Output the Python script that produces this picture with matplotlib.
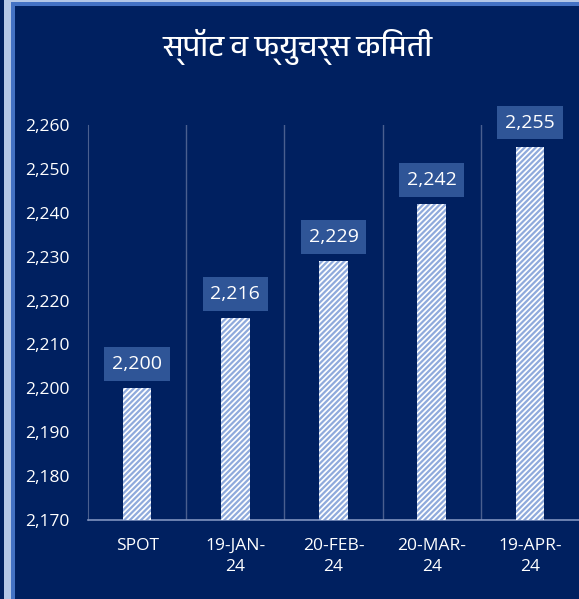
import matplotlib
matplotlib.use("Agg")
import matplotlib.pyplot as plt
from matplotlib import font_manager
from matplotlib.patches import Rectangle

# data
categories = ["SPOT", "19-JAN-\n24", "20-FEB-\n24", "20-MAR-\n24", "19-APR-\n24"]
prices = [2200, 2216, 2229, 2242, 2255]
yticks = [2170, 2180, 2190, 2200, 2210, 2220, 2230, 2240, 2250, 2260]
title = "स्पॉट व फ्युचर्स किमती"

navy = "#002060"
label_box = "#2F5597"
hatch_col = "#8FAADC"

# look for a font that can draw Devanagari
deva = [f.name for f in font_manager.fontManager.ttflist
        if "Devanagari" in f.name or f.name in ("Lohit Devanagari", "Mukta", "Hind", "Mangal")]
title_fonts = sorted(set(deva)) + ["Noto Sans", "DejaVu Sans"]

plt.rcParams["hatch.linewidth"] = 1.6
plt.rcParams["hatch.color"] = hatch_col

fig = plt.figure(figsize=(5.79, 5.99), dpi=100, facecolor=navy)
W, H = 579, 599

# outer frame on the left / top
fig.patches.append(Rectangle((4 / W, 0), 7 / W, 1 - 2 / H, transform=fig.transFigure,
                             facecolor="#B4C7E7", edgecolor="none", zorder=0))
fig.patches.append(Rectangle((11 / W, 0), 4 / W, 1 - 2 / H, transform=fig.transFigure,
                             facecolor="#4472C4", edgecolor="none", zorder=0))
fig.patches.append(Rectangle((11 / W, 1 - 6 / H), 1, 4 / H, transform=fig.transFigure,
                             facecolor="#4472C4", edgecolor="none", zorder=0))
fig.patches.append(Rectangle((4 / W, 1 - 2 / H), 1, 2 / H, transform=fig.transFigure,
                             facecolor="#B4C7E7", edgecolor="none", zorder=0))

ax = fig.add_axes([88 / W, 1 - 520 / H, 491 / W, 395 / H])
ax.set_facecolor(navy)

x = list(range(len(categories)))
ax.bar(x, [p - 2170 for p in prices], bottom=2170, width=0.29,
       color="white", edgecolor=hatch_col, linewidth=0, hatch="//////", zorder=3)

for xi, p in zip(x, prices):
    ax.annotate(f"{p:,}", (xi, p), xytext=(0, 11), textcoords="offset points",
                ha="center", va="bottom", color="white", fontsize=14,
                family=["Open Sans", "DejaVu Sans"],
                bbox=dict(boxstyle="square,pad=0.4", facecolor=label_box, edgecolor="none"))

ax.set_xlim(-0.5, len(categories) - 0.5)
ax.set_ylim(2170, 2260)
ax.set_yticks(yticks)
ax.set_yticklabels([f"{t:,}" for t in yticks], color="white", fontsize=12.5,
                   family=["Open Sans", "DejaVu Sans"])
ax.set_xticks(x)
ax.set_xticklabels(categories, color="white", fontsize=12.5,
                   family=["Open Sans", "DejaVu Sans"], linespacing=1.45)
ax.tick_params(axis="both", length=0)
ax.tick_params(axis="x", pad=13)
ax.tick_params(axis="y", pad=13)

for b in [0.5, 1.5, 2.5, 3.5]:
    ax.axvline(b, color="#4A5F8F", linewidth=1, zorder=1)

for s in ["top", "right"]:
    ax.spines[s].set_visible(False)
ax.spines["left"].set_color("#4A5F8F")
ax.spines["bottom"].set_color("#7F93BF")
ax.spines["bottom"].set_linewidth(1.2)

fig.text(298 / W, 1 - 47 / H, title, ha="center", va="center", color="white",
         fontsize=21.5, fontweight="bold", family=title_fonts)

fig.savefig("out.png", dpi=100, facecolor=navy)
